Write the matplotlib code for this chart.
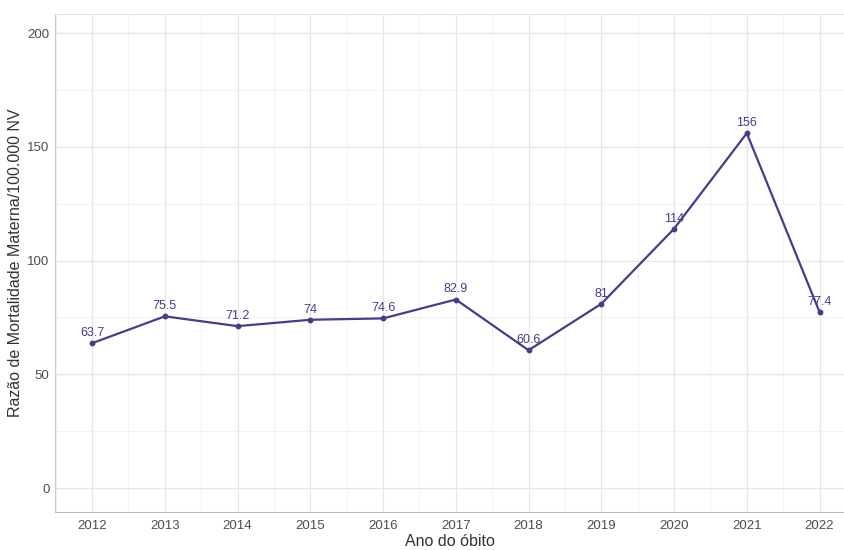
import matplotlib
matplotlib.use("Agg")
import matplotlib.pyplot as plt
from matplotlib.ticker import MultipleLocator

plt.rcParams['font.family'] = ['Liberation Sans', 'DejaVu Sans']

anos = [2012, 2013, 2014, 2015, 2016, 2017, 2018, 2019, 2020, 2021, 2022]
razao = [63.7, 75.5, 71.2, 74, 74.6, 82.9, 60.6, 81, 114, 156, 77.4]
rotulos = ["63.7", "75.5", "71.2", "74", "74.6", "82.9", "60.6", "81", "114", "156", "77.4"]

cor = "#4a3a8c"

fig = plt.figure(figsize=(8.45, 5.5), dpi=100)
ax = fig.add_axes([55/845, 38/550, 790/845, 498/550])

ax.plot(anos, razao, color=cor, lw=1.6, marker="o", ms=3.2, zorder=3)
for x, y, t in zip(anos, razao, rotulos):
    ax.text(x, y + 1.8, t, ha="center", va="bottom", fontsize=9, color=cor, zorder=4)

ax.set_xlim(2011.49, 2022.35)
ax.set_ylim(-10.5, 208.4)
ax.set_xticks(anos)
ax.yaxis.set_major_locator(MultipleLocator(50))
ax.yaxis.set_minor_locator(MultipleLocator(25))
ax.set_xticks([a + 0.5 for a in anos[:-1]] + [2011.5], minor=True)

ax.grid(which="major", color="#e6e6e6", lw=0.9)
ax.grid(which="minor", color="#f2f2f2", lw=0.7)
ax.set_axisbelow(True)

ax.tick_params(which="both", length=0, labelsize=9.5, labelcolor="#4d4d4d", pad=6)
ax.tick_params(axis="y", pad=4)

ax.spines["right"].set_visible(False)
ax.spines["top"].set_color("#e0e0e0")
ax.spines["left"].set_color("#cccccc")
ax.spines["bottom"].set_color("#bbbbbb")

ax.set_xlabel("Ano do óbito", fontsize=11.5, color="#333333", labelpad=1)
ax.set_ylabel("Razão de Mortalidade Materna/100.000 NV", fontsize=11.5, color="#333333", labelpad=3)

fig.savefig("out.png", dpi=100)
